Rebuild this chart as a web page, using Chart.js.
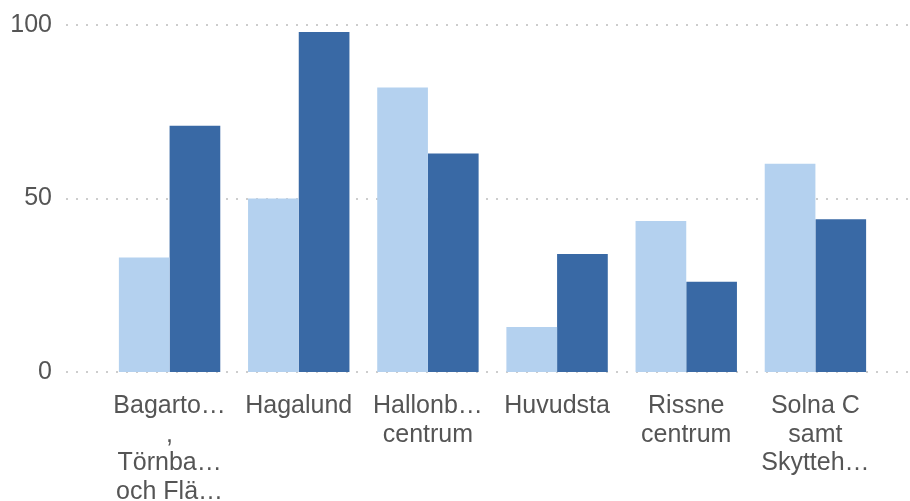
<!DOCTYPE html>
<html>
<head>
<meta charset="utf-8">
<script src="https://cdn.jsdelivr.net/npm/chart.js@4"></script>
<style>
    html, body { margin: 0; padding: 0; background: #fff; }
    #wrap { width: 910px; height: 501px; }
</style>
</head>
<body>
<div id="wrap"><canvas id="chart" width="910" height="501"></canvas></div>
<script>
// Kategorier (avkortade som i originalet)
const categories = [
    ['Bagarto…', ',', 'Törnba…', 'och Flä…'],
    ['Hagalund'],
    ['Hallonb…', 'centrum'],
    ['Huvudsta'],
    ['Rissne', 'centrum'],
    ['Solna C', 'samt', 'Skytteh…']
];

// Värden per serie
const seriesLight = [33, 50, 82, 13, 43.5, 60];
const seriesDark = [71, 98, 63, 34, 26, 44];

// Y-axelns etiketter
const yTicks = [0, 50, 100];

const textColor = '#555555';
const fontFamily = '"Liberation Sans", Arial, sans-serif';

// Prickade stödlinjer över hela bredden
const dottedGrid = {
    id: 'dottedGrid',
    beforeDatasetsDraw(chart) {
        const ctx = chart.ctx;
        const y = chart.scales.y;
        ctx.save();
        ctx.strokeStyle = '#cdcdcd';
        ctx.lineWidth = 2;
        ctx.setLineDash([2, 8]);
        yTicks.forEach(v => {
            const py = Math.round(y.getPixelForValue(v));
            ctx.beginPath();
            ctx.moveTo(66, py);
            ctx.lineTo(chart.width, py);
            ctx.stroke();
        });
        ctx.restore();
    }
};

new Chart(document.getElementById('chart').getContext('2d'), {
    type: 'bar',
    data: {
        labels: categories,
        datasets: [{
            data: seriesLight,
            backgroundColor: '#b4d1ef',
            borderWidth: 0
        }, {
            data: seriesDark,
            backgroundColor: '#3969a5',
            borderWidth: 0
        }]
    },
    options: {
        responsive: false,
        animation: false,
        layout: { padding: { top: 25, right: 30, left: 0, bottom: 0 } },
        plugins: {
            legend: { display: false },
            tooltip: { enabled: false }
        },
        datasets: {
            bar: { barPercentage: 1, categoryPercentage: 0.785 }
        },
        scales: {
            x: {
                grid: { display: false, drawTicks: false },
                border: { display: false },
                afterFit: scale => { scale.height = 129; },
                ticks: {
                    color: textColor,
                    padding: 20,
                    maxRotation: 0,
                    autoSkip: false,
                    font: { family: fontFamily, size: 25, lineHeight: 1.14 }
                }
            },
            y: {
                min: 0,
                max: 100,
                afterFit: scale => {
                    scale.width = 105;
                    // tick padding ska inte trycka ner diagramytan
                    scale.paddingTop = 0;
                    scale.paddingBottom = 0;
                },
                afterBuildTicks: scale => { scale.ticks = yTicks.map(v => ({ value: v })); },
                grid: { display: false, drawTicks: false },
                border: { display: false },
                ticks: {
                    color: textColor,
                    padding: 53,
                    font: { family: fontFamily, size: 25 }
                }
            }
        }
    },
    plugins: [dottedGrid]
});
</script>
</body>
</html>
